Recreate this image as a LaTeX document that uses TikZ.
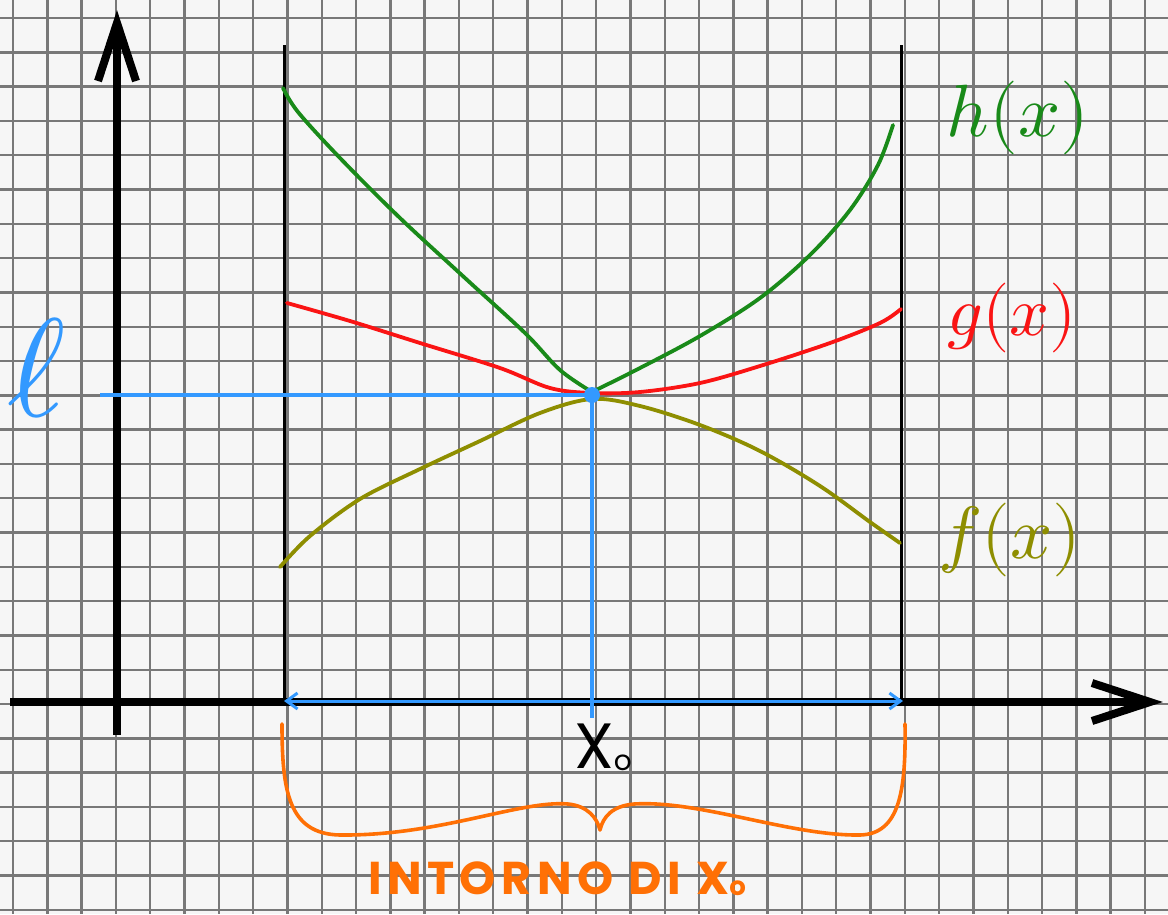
\documentclass[tikz,border=0pt]{standalone}
\usepackage{fontspec}
\usepackage{unicode-math}
\newfontfamily\hand{Poppins}
\newfontfamily\handsp[LetterSpace=12]{Poppins}
\usetikzlibrary{arrows.meta}
\definecolor{bgc}{gray}{0.965}
\definecolor{gridc}{gray}{0.47}
\definecolor{hgreen}{RGB}{25,138,25}
\definecolor{gred}{RGB}{250,20,20}
\definecolor{folive}{RGB}{142,142,0}
\definecolor{lblue}{RGB}{51,153,255}
\definecolor{orng}{RGB}{255,112,5}
\begin{document}
\begin{tikzpicture}[x=1pt,y=-1pt,
  gridline/.style={gridc,line width=2.4pt},
  axisline/.style={black,line width=8pt},
  headline/.style={black,line width=8pt,line join=miter,line cap=butt},
  boundline/.style={black,line width=3pt},
  blueline/.style={lblue,line width=4pt},
  curve/.style={line width=3.8pt,line cap=round,line join=round},
  lab/.style={inner sep=0pt}]
\useasboundingbox (0,0) rectangle (1168,914);
\fill[bgc] (0,0) rectangle (1168,914);
\foreach \i in {0,...,33} \draw[gridline] ({13+34.3*\i},0) -- ({13+34.3*\i},914);
\foreach \j in {0,...,26} \draw[gridline] (0,{18+34.3*\j}) -- (1168,{18+34.3*\j});

% coordinates
\coordinate (ybot) at (117,735);
\coordinate (ytop) at (117,23);
\coordinate (ytl) at (98,81);
\coordinate (ytr) at (136,81);
\coordinate (xl) at (10,702);
\coordinate (xr) at (1150,702);
\coordinate (xru) at (1092,683);
\coordinate (xrd) at (1092,721);
\coordinate (Lt) at (284,45);
\coordinate (Lb) at (284,703);
\coordinate (Rt) at (901,45);
\coordinate (Rb) at (901,703);
\coordinate (lst) at (100,395);
\coordinate (xtick) at (592,718);
\coordinate (al) at (284,701);
\coordinate (ar) at (903,701);

% axes
\draw[axisline] (ybot) -- (ytop);
\draw[headline] (ytl) -- (ytop) -- (ytr);
\draw[axisline] (xl) -- (xr);
\draw[headline] (xru) -- (xr) -- (xrd);

% boundary lines
\draw[boundline] (Lt) -- (Lb);
\draw[boundline] (Rt) -- (Rb);

% curves
\draw[curve,hgreen] plot[smooth,tension=0.55] coordinates {(283,88) (298,112) (340,158) (400,218) (465,278) (525,333) (560,370) (592,392)};
\draw[curve,hgreen] plot[smooth,tension=0.55] coordinates {(592,392) (640,368) (700,336) (760,298) (810,255) (850,210) (878,165) (893,125)};
\draw[curve,gred] plot[smooth,tension=0.55] coordinates {(287,303) (350,321) (420,343) (500,368) (550,388) (592,393) (640,392) (700,383) (760,366) (830,343) (880,323) (901,309)};
\draw[curve,folive] plot[smooth,tension=0.55] coordinates {(280,567) (310,536) (360,499) (420,469) (480,441) (540,413) (592,399) (640,406) (700,425) (760,451) (820,486) (870,522) (900,543)};

% blue lines
\node[circle,fill=lblue,inner sep=0pt,minimum size=16pt] (P) at (592,395) {};
\draw[blueline] (lst) -- (P.center);
\draw[blueline] (P.center) -- (xtick);
\draw[lblue,line width=3pt,{Straight Barb[length=11pt,width=16pt]}-{Straight Barb[length=11pt,width=16pt]}] (al) -- (ar);

% brace
\draw[orng,line width=3.6pt,line cap=round,line join=round]
  (282,724) .. controls (282,790) and (288,834) .. (340,835)
  .. controls (440,836) and (520,800) .. (568,804)
  .. controls (588,806) and (597,818) .. (600,830)
  .. controls (603,817) and (612,806) .. (634,804)
  .. controls (700,800) and (790,836) .. (860,835)
  .. controls (900,834) and (906,790) .. (905,724);

% labels
\node[lab,text=lblue,font=\fontsize{140}{140}\selectfont] (ell) at (37,368) {$\ell$};
\node[lab,text=hgreen,font=\fontsize{74}{74}\selectfont] (hx) at (1018,118) {$h(x)$};
\node[lab,text=gred,font=\fontsize{70}{70}\selectfont] (gx) at (1012,318) {$g(x)$};
\node[lab,text=folive,font=\fontsize{74}{74}\selectfont] (fx) at (1010,540) {$f(x)$};
\node[lab,font=\hand\fontsize{64}{64}\selectfont] (x0) at (603,747) {X\raisebox{-2pt}{\fontsize{28}{28}\selectfont o}};
\node[lab,text=orng,font=\handsp\bfseries\fontsize{46}{46}\selectfont] (into) at (557,879) {INTORNO DI X\raisebox{-1pt}{\fontsize{26}{26}\selectfont o}};
\end{tikzpicture}
\end{document}
